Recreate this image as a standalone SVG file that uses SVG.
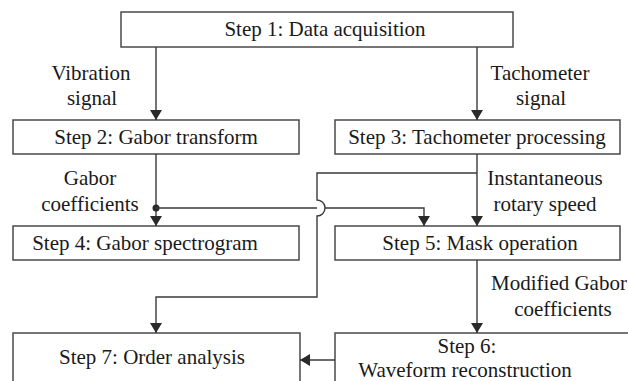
<svg xmlns="http://www.w3.org/2000/svg" width="628" height="381" viewBox="0 0 628 381">
  <defs>
    <marker id="arrow" viewBox="0 0 10 12" refX="10" refY="6" markerWidth="10" markerHeight="12" markerUnits="userSpaceOnUse" orient="auto">
      <path d="M0,0 L10,6 L0,12 Z" fill="#2a2a2a"/>
    </marker>
  </defs>
  <style>
    .box { fill: #ffffff; stroke: #4a4a4a; stroke-width: 1.5; }
    .lbl { font-family: "Liberation Serif", "Times New Roman", serif; font-size: 21px; fill: #1a1a1a; text-anchor: middle; }
    .wire { fill: none; stroke: #3a3a3a; stroke-width: 1.4; }
  </style>
  <rect width="628" height="381" fill="#ffffff"/>

  <!-- process steps -->
  <g id="step1">
    <rect class="box" x="121" y="12" width="392" height="35"/>
    <text class="lbl" x="325" y="36">Step 1: Data acquisition</text>
  </g>
  <g id="step2">
    <rect class="box" x="13" y="120" width="286" height="34"/>
    <text class="lbl" x="156" y="144">Step 2: Gabor transform</text>
  </g>
  <g id="step3">
    <rect class="box" x="335" y="120" width="285" height="34"/>
    <text class="lbl" x="477" y="144">Step 3: Tachometer processing</text>
  </g>
  <g id="step4">
    <rect class="box" x="13" y="226" width="286" height="34"/>
    <text class="lbl" x="145" y="250">Step 4: Gabor spectrogram</text>
  </g>
  <g id="step5">
    <rect class="box" x="335" y="226" width="285" height="34"/>
    <text class="lbl" x="480" y="250">Step 5: Mask operation</text>
  </g>
  <g id="step6">
    <rect class="box" x="335" y="333" width="300" height="70"/>
    <text class="lbl" x="467" y="353">Step 6:</text>
    <text class="lbl" x="465" y="377">Waveform reconstruction</text>
  </g>
  <g id="step7">
    <rect class="box" x="13" y="333" width="287" height="70"/>
    <text class="lbl" x="152" y="364">Step 7: Order analysis</text>
  </g>

  <!-- connectors and their labels -->
  <g id="connectors">
    <path class="wire" d="M156,47 V120" marker-end="url(#arrow)"/>
    <path class="wire" d="M477,47 V120" marker-end="url(#arrow)"/>
    <path class="wire" d="M156,154 V226" marker-end="url(#arrow)"/>
    <circle cx="156" cy="208" r="3.5" fill="#2a2a2a"/>
    <path class="wire" d="M156,208 H317"/>
    <path class="wire" d="M325,208 H424 V226" marker-end="url(#arrow)"/>
    <path class="wire" d="M477,154 V226" marker-end="url(#arrow)"/>
    <path class="wire" d="M477,173 H317 V200 A8,8 0 0 1 317,216 V297 H156 V333" marker-end="url(#arrow)"/>
    <path class="wire" d="M477,260 V333" marker-end="url(#arrow)"/>
    <path class="wire" d="M335,360 H300" marker-end="url(#arrow)"/>

    <text class="lbl" x="91" y="80">Vibration</text>
    <text class="lbl" x="92" y="105">signal</text>
    <text class="lbl" x="540" y="80">Tachometer</text>
    <text class="lbl" x="541" y="105">signal</text>
    <text class="lbl" x="90" y="185">Gabor</text>
    <text class="lbl" x="90" y="211">coefficients</text>
    <text class="lbl" x="545" y="185">Instantaneous</text>
    <text class="lbl" x="545" y="211">rotary speed</text>
    <text class="lbl" x="559" y="290">Modified Gabor</text>
    <text class="lbl" x="563" y="316">coefficients</text>
  </g>
</svg>
